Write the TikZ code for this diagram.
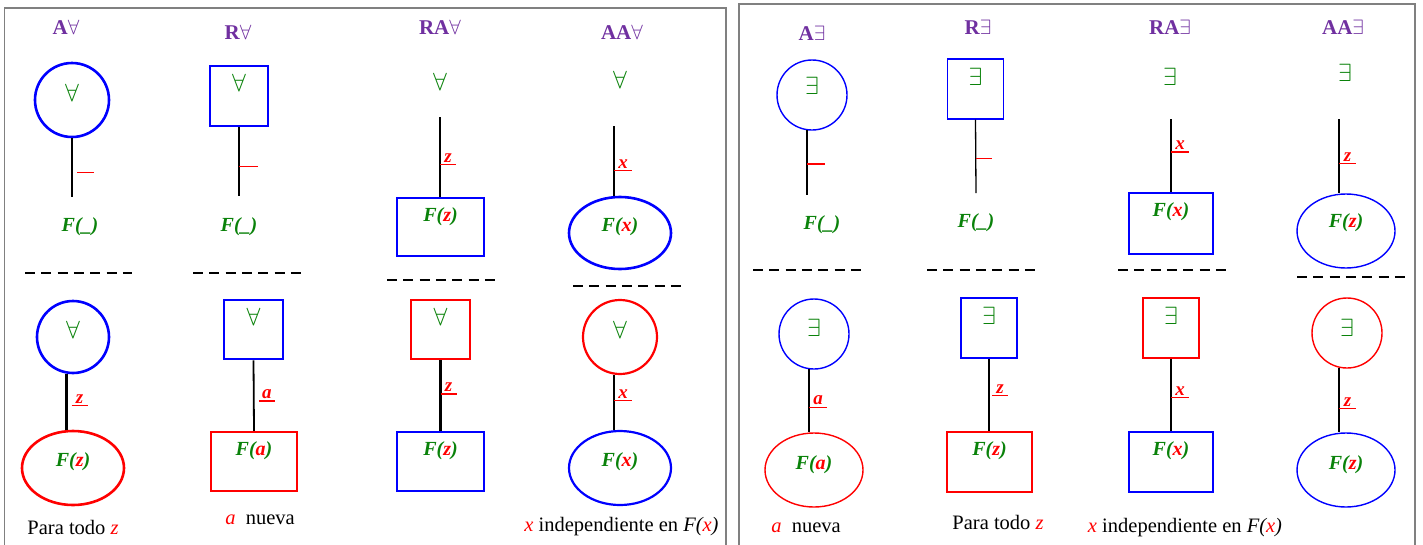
\documentclass[tikz,border=0pt]{standalone}
\usepackage{fontspec}
\setmainfont{Liberation Serif}
\usetikzlibrary{shapes.geometric,calc}
\definecolor{fblue}{RGB}{0,0,255}
\definecolor{fred}{RGB}{255,0,0}
\definecolor{fgreen}{RGB}{10,130,10}
\definecolor{fpurple}{RGB}{112,48,160}
\definecolor{fgray}{RGB}{128,128,128}
\newcommand\myfs[1]{\fontsize{#1}{#1}\selectfont}
\newcommand\Fx[1]{{\bfseries\itshape\color{fgreen}F(\textcolor{fred}{#1})}}
\newcommand\Fblank{{\bfseries\itshape\color{fgreen}F(\_)}}
\tikzset{
 panel/.style={draw=fgray, line width=1.5pt},
 ttl/.style={text=fpurple, font=\myfs{21}, inner sep=0},
 sym/.style={text=fgreen, font=\myfs{25}, inner sep=0},
 fx/.style={font=\myfs{20}, inner sep=0},
 captext/.style={font=\myfs{20.5}, inner sep=0},
 varlbl/.style={text=fred, font=\myfs{19}\bfseries\itshape, inner sep=1.5pt, above},
 tick/.style={draw=fred, line width=1.2pt},
 stem/.style={draw=black, line width=2.6pt},
 stemthin/.style={draw=black, line width=1.3pt},
 sepline/.style={draw=black, line width=2.8pt, dash pattern=on 10pt off 6.3pt},
 heavy/.style={line width=2.6pt},
 light/.style={line width=1.4pt},
 circ/.style={circle, inner sep=0, minimum size=#1},
 ell/.style 2 args={ellipse, inner sep=0, minimum width=#1, minimum height=#2},
 box/.style 2 args={rectangle, inner sep=0, minimum width=#1, minimum height=#2},
}
\begin{document}
\begin{tikzpicture}[x=1pt,y=-1pt]
\useasboundingbox (0,0) rectangle (1423,544);
% panels
\draw[panel] (4.5,8) rectangle (726,552);
\draw[panel] (739,4) rectangle (1415,552);

%%%%%%%% LEFT PANEL, TOP
% A forall
\node[ttl] (t1) at (66,27) {\textbf{A}$\forall$};
\node[circ=74pt, draw=fblue, heavy, label={[sym,yshift=7pt]center:$\forall$}] (c1) at (72,100) {};
\coordinate (e1) at (72,197);
\draw[stem] (c1.south) -- (e1) coordinate[pos=0.58] (k1);
\draw[tick] ([xshift=5pt]k1) -- ++(17,0);
\node[fx] (f1) at (80,227) {\Fblank};
\draw[sepline] (25,273) -- (132,273);

% R forall
\node[ttl] (t2) at (238,32) {\textbf{R}$\forall$};
\node[box={58pt}{60pt}, draw=fblue, heavy, label={[sym,yshift=13pt]center:$\forall$}] (c2) at (239,96) {};
\coordinate (e2) at (239,196);
\draw[stem] (c2.south) -- (e2) coordinate[pos=0.57] (k2);
\draw[tick] (k2) -- ++(19,0);
\node[fx] (f2) at (239,227) {\Fblank};
\draw[sepline] (193,273) -- (302,273);

% RA forall
\node[ttl] (t3) at (440,27) {\textbf{RA}$\forall$};
\node[sym] (q3) at (440,82) {$\forall$};
\coordinate (s3) at (440,117);
\node[box={87pt}{58pt}, draw=fblue, heavy, label={[fx,yshift=10pt]center:\Fx{z}}] (r3) at (440.5,227) {};
\draw[stem] (s3) -- (s3 |- r3.north) coordinate[pos=0.6] (k3);
\draw[tick] (k3) -- ++(16,0) node[varlbl, midway] {z};
\draw[sepline] (387,280) -- (495,280);

% AA forall
\node[ttl] (t4) at (622,32) {\textbf{AA}$\forall$};
\node[sym] (q4) at (620,80) {$\forall$};
\coordinate (s4) at (614,126);
\node[ell={102pt}{72pt}, draw=fblue, heavy, label={[fx,yshift=6pt]center:\Fx{x}}] (r4) at (620,233) {};
\draw[stem] (s4) -- (s4 |- r4.north) coordinate[pos=0.64] (k4);
\draw[tick] (k4) -- ++(18,0) node[varlbl, midway] {x};
\draw[sepline] (573,286) -- (681,286);

%%%%%%%% LEFT PANEL, BOTTOM
% col 1
\node[circ=72pt, draw=fblue, heavy, label={[sym,yshift=7pt]center:$\forall$}] (b1c) at (73,337) {};
\node[ell={102pt}{74pt}, draw=fred, heavy, label={[fx,yshift=6pt]center:\Fx{z}}] (b1e) at (73,468) {};
\draw[stem] (b1c.-100) -- (b1c.-100 |- b1e.north) coordinate[pos=0.57] (bk1);
\draw[tick] ([xshift=5pt]bk1) -- ++(16,0) node[varlbl, midway] {z};
\node[captext] (cap1) at (73,527) {Para todo \textcolor{fred}{\textit{z}}};

% col 2
\node[box={59pt}{59pt}, draw=fblue, heavy, label={[sym,yshift=13pt]center:$\forall$}] (b2s) at (253.5,329.5) {};
\node[box={86pt}{59pt}, draw=fred, line width=2.2pt, label={[fx,yshift=11pt]center:\Fx{a}}] (b2r) at (254,461.5) {};
\draw[stemthin, line width=1.8pt] (b2s.south) -- (b2r.north) coordinate[pos=0.575] (bk2);
\draw[tick] ([xshift=5pt]bk2) -- ++(16,0) node[varlbl, midway] {a};
\node[captext] (cap2) at (260,520) {\textcolor{fred}{\textit{a}}\enspace nueva};

% col 3
\node[box={59pt}{59pt}, draw=fred, line width=2.2pt, label={[sym,yshift=13pt]center:$\forall$}] (b3s) at (440.5,329.5) {};
\node[box={87pt}{59pt}, draw=fblue, heavy, label={[fx,yshift=11pt]center:\Fx{z}}] (b3r) at (440.5,461.5) {};
\draw[stem] (b3s.south) -- (b3r.north) coordinate[pos=0.48] (bk3);
\draw[tick] (bk3) -- ++(16,0) node[varlbl, midway] {z};

% col 4
\node[circ=74pt, draw=fred, line width=2.2pt, label={[sym,yshift=7pt]center:$\forall$}] (b4c) at (620,337) {};
\node[ell={102pt}{74pt}, draw=fblue, line width=2.2pt, label={[fx,yshift=6pt]center:\Fx{x}}] (b4e) at (620,468) {};
\draw[stem] (b4c.-99) -- (b4c.-99 |- b4e.north) coordinate[pos=0.47] (bk4);
\draw[tick] (bk4) -- ++(18,0) node[varlbl, midway] {x};
\node[captext] (cap4) at (621.5,527) {\textcolor{fred}{\textit{x}} independiente en \textit{F(\textcolor{fred}{x})}};

%%%%%%%% RIGHT PANEL, TOP
% A exists
\node[ttl] (rt1) at (812,33) {\textbf{A}$\exists$};
\node[circ=70pt, draw=fblue, light, label={[sym,yshift=9pt]center:$\exists$}] (rc1) at (812,95) {};
\coordinate (re1) at (807,195);
\draw[stemthin] (rc1.-98) -- (rc1.-98 |- re1) coordinate[pos=0.52] (rk1);
\draw[tick] (rk1) -- ++(18,0);
\node[fx] (rf1) at (822,225) {\Fblank};
\draw[sepline] (753,270) -- (863,270);

% R exists
\node[ttl] (rt2) at (978,27) {\textbf{R}$\exists$};
\node[box={56pt}{60pt}, draw=fblue, light, label={[sym,yshift=12pt]center:$\exists$}] (rc2) at (975.5,89) {};
\coordinate (re2) at (976,193);
\draw[stemthin] (rc2.south) -- (re2) coordinate[pos=0.53] (rk2);
\draw[tick] (rk2) -- ++(16,0);
\node[fx] (rf2) at (976,223) {\Fblank};
\draw[sepline] (927,270) -- (1035,270);

% RA exists
\node[ttl] (rt3) at (1170,27) {\textbf{RA}$\exists$};
\node[sym] (rq3) at (1170,77) {$\exists$};
\coordinate (rs3) at (1171,119);
\node[box={84pt}{61pt}, draw=fblue, light, label={[fx,yshift=11.5pt]center:\Fx{x}}] (rr3) at (1171,223.5) {};
\draw[stemthin] (rs3) -- (rs3 |- rr3.north) coordinate[pos=0.45] (rk3);
\draw[tick] (rk3) -- ++(18,0) node[varlbl, midway] {x};
\draw[sepline] (1118,270) -- (1227,270);

% AA exists
\node[ttl] (rt4) at (1343,27) {\textbf{AA}$\exists$};
\node[sym] (rq4) at (1345,73) {$\exists$};
\coordinate (rs4) at (1339,119);
\node[ell={98pt}{74pt}, draw=fblue, light, label={[fx,yshift=8pt]center:\Fx{z}}] (rr4) at (1346,231) {};
\draw[stemthin] (rs4) -- (rs4 |- rr4.north) coordinate[pos=0.6] (rk4);
\draw[tick] (rk4) -- ++(17,0) node[varlbl, midway] {z};
\draw[sepline] (1297,277) -- (1407,277);

%%%%%%%% RIGHT PANEL, BOTTOM
% col 1
\node[circ=70pt, draw=fblue, light, label={[sym,yshift=6pt]center:$\exists$}] (rb1c) at (814,334) {};
\node[ell={98pt}{74pt}, draw=fred, light, label={[fx,yshift=5pt]center:\Fx{a}}] (rb1e) at (814,470) {};
\draw[stemthin] (rb1c.-98) -- (rb1c.-98 |- rb1e.north) coordinate[pos=0.6] (rbk1);
\draw[tick] (rbk1) -- ++(18,0) node[varlbl, midway] {a};
\node[captext] (rcap1) at (806,528) {\textcolor{fred}{\textit{a}}\enspace nueva};

% col 2
\node[box={56pt}{60pt}, draw=fblue, light, label={[sym,yshift=12pt]center:$\exists$}] (rb2s) at (989,328) {};
\node[box={85pt}{60pt}, draw=fred, light, label={[fx,yshift=11pt]center:\Fx{z}}] (rb2r) at (989.5,462) {};
\draw[stemthin] (rb2s.south) -- (rb2s.south |- rb2r.north) coordinate[pos=0.51] (rbk2);
\draw[tick] ([xshift=3pt]rbk2) -- ++(16,0) node[varlbl, midway] {z};
\node[captext] (rcap2) at (998,522) {Para todo \textcolor{fred}{\textit{z}}};

% col 3
\node[box={56pt}{60pt}, draw=fred, light, label={[sym,yshift=12pt]center:$\exists$}] (rb3s) at (1171,328) {};
\node[box={84pt}{60pt}, draw=fblue, light, label={[fx,yshift=11pt]center:\Fx{x}}] (rb3r) at (1171,462) {};
\draw[stemthin] (rb3s.south) -- (rb3r.north) coordinate[pos=0.53] (rbk3);
\draw[tick] (rbk3) -- ++(18,0) node[varlbl, midway] {x};
\node[captext] (rcap3) at (1185,528) {\textcolor{fred}{\textit{x}} independiente en \textit{F(\textcolor{fred}{x})}};

% col 4
\node[circ=70pt, draw=fred, light, label={[sym,yshift=5pt]center:$\exists$}] (rb4c) at (1347,333) {};
\node[ell={98pt}{74pt}, draw=fblue, light, label={[fx,yshift=5pt]center:\Fx{z}}] (rb4e) at (1346,470) {};
\draw[stemthin] (rb4c.-103) -- (rb4c.-103 |- rb4e.north) coordinate[pos=0.63] (rbk4);
\draw[tick] (rbk4) -- ++(17,0) node[varlbl, midway] {z};
\end{tikzpicture}
\end{document}
